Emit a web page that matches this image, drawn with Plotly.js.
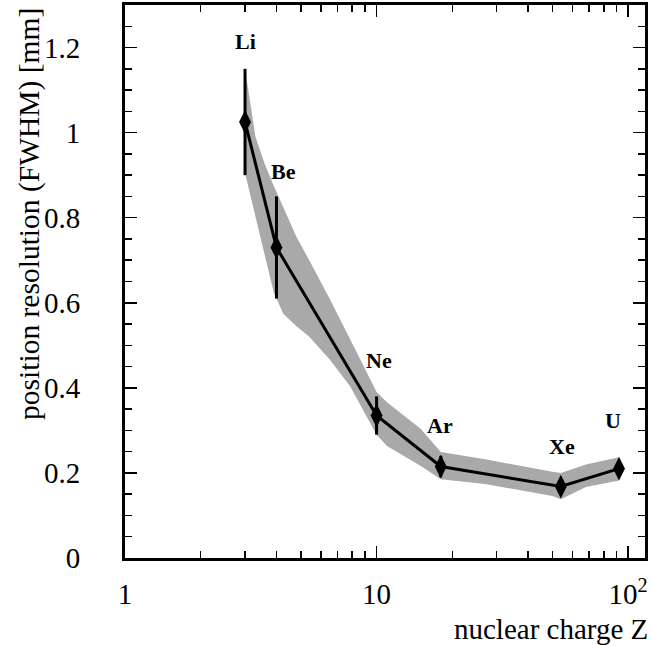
<!DOCTYPE html>
<html>
<head>
<meta charset="utf-8">
<script src="https://cdn.plot.ly/plotly-3.0.1.min.js"></script>
<style>html,body{margin:0;padding:0;background:#fff;}#chart{width:653px;height:645px;}</style>
</head>
<body>
<div id="chart"></div>
<script>
// Data
const elements = ['Li', 'Be', 'Ne', 'Ar', 'Xe', 'U'];
const nuclearCharge = [3, 4, 10, 18, 54, 92];
const resolution = [1.025, 0.73, 0.335, 0.215, 0.168, 0.21];
const resolutionErr = [0.125, 0.12, 0.045, 0.025, 0.015, 0.01];

// shaded uncertainty band (edges)
const bandZ     = [3, 3.3, 3.6, 3.9, 4.25, 4.8, 5.4, 6.5, 7.85, 10, 11, 15, 18, 27, 50, 54, 68, 92];
const bandUpper = [1.15, 0.99, 0.925, 0.875, 0.826, 0.755, 0.70, 0.61, 0.514, 0.39, 0.366, 0.303, 0.249, 0.232, 0.203, 0.20, 0.22, 0.237];
const bandLower = [0.905, 0.80, 0.71, 0.625, 0.575, 0.545, 0.52, 0.467, 0.404, 0.29, 0.263, 0.216, 0.185, 0.174, 0.146, 0.138, 0.167, 0.182];

const xTickVals = [1, 10, 100];
const xTickText = ['1', '10', '10<sup>2</sup>'];
const yTickVals = [0, 0.2, 0.4, 0.6, 0.8, 1, 1.2];
const yTickText = ['0', '0.2', '0.4', '0.6', '0.8', '1', '1.2'];

// label offsets (pixels) relative to each data point
const labelShiftX = [0, 7, 2, -1, 1, -6];
const labelShiftY = [80, 76, 55, 41, 40, 48];

const serif = 'Liberation Serif, Times New Roman, serif';

const traces = [
  {
    x: bandZ, y: bandLower, mode: 'lines', line: {width: 0, color: 'rgba(0,0,0,0)'},
    hoverinfo: 'skip', showlegend: false
  },
  {
    x: bandZ, y: bandUpper, mode: 'lines', line: {width: 0, color: 'rgba(0,0,0,0)'},
    fill: 'tonexty', fillcolor: '#a9a9a9', hoverinfo: 'skip', showlegend: false
  },
  {
    x: nuclearCharge, y: resolution, mode: 'lines+markers',
    line: {color: '#000', width: 3},
    marker: {symbol: 'diamond-tall', size: 17, color: '#000'},
    error_y: {type: 'data', array: resolutionErr, visible: true, thickness: 3, width: 0, color: '#000'},
    showlegend: false
  }
];

const annotations = elements.map((el, i) => ({
  x: Math.log10(nuclearCharge[i]), y: resolution[i], xref: 'x', yref: 'y',
  text: '<b>' + el + '</b>', showarrow: false,
  xshift: labelShiftX[i], yshift: labelShiftY[i],
  font: {family: serif, size: 22, color: '#000'}
}));

annotations.push({
  xref: 'paper', yref: 'paper', x: 1.01, y: -0.128, xanchor: 'right', yanchor: 'middle',
  text: 'nuclear charge Z', showarrow: false,
  font: {family: serif, size: 29, color: '#000'}
});
annotations.push({
  xref: 'paper', yref: 'paper', x: -0.185, y: 0.998, xanchor: 'center', yanchor: 'top',
  text: 'position resolution (FWHM) [mm]', textangle: -90, showarrow: false,
  font: {family: serif, size: 29.5, color: '#000'}
});

const axisCommon = {
  showline: true, linecolor: '#000', linewidth: 3, mirror: 'allticks',
  ticks: 'inside', tickcolor: '#000', tickwidth: 1.5,
  showgrid: false, zeroline: false,
  tickfont: {family: serif, size: 29, color: '#000'}
};

const layout = {
  width: 653, height: 645,
  margin: {l: 125, r: 8, t: 5, b: 87},
  paper_bgcolor: '#fff', plot_bgcolor: '#fff',
  showlegend: false,
  xaxis: Object.assign({}, axisCommon, {
    type: 'log', range: [0, 2.067],
    tickmode: 'array', tickvals: xTickVals, ticktext: xTickText,
    ticklen: 12, ticklabelstandoff: 8,
    minor: {ticks: 'inside', ticklen: 7, tickcolor: '#000', tickwidth: 1.5, dtick: 'D1', showgrid: false}
  }),
  yaxis: Object.assign({}, axisCommon, {
    range: [0, 1.3],
    tickmode: 'array', tickvals: yTickVals, ticktext: yTickText,
    ticklen: 12, ticklabelstandoff: 36,
    minor: {ticks: 'inside', ticklen: 7, tickcolor: '#000', tickwidth: 1.5, dtick: 0.05, showgrid: false}
  }),
  annotations: annotations
};

Plotly.newPlot('chart', traces, layout, {staticPlot: true, displayModeBar: false});
</script>
</body>
</html>
